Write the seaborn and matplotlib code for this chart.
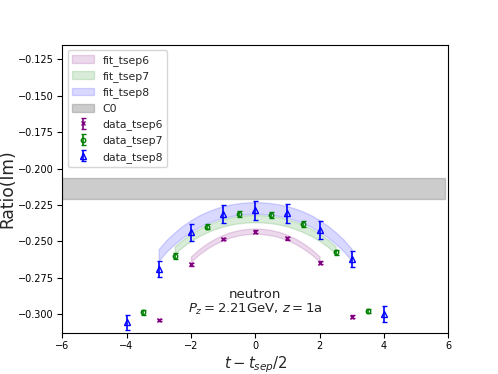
import matplotlib
matplotlib.use("Agg")
import matplotlib.pyplot as plt
import seaborn as sns

# data points, tau = t - tsep/2
tau_6 = [-3, -2, -1, 0, 1, 2, 3]
val_6 = [-0.3039, -0.2657, -0.2483, -0.2433, -0.2478, -0.2646, -0.3016]
err_6 = [0.0008, 0.0009, 0.0009, 0.0009, 0.0009, 0.0009, 0.0008]

tau_7 = [-3.5, -2.5, -1.5, -0.5, 0.5, 1.5, 2.5, 3.5]
val_7 = [-0.2986, -0.2600, -0.2398, -0.2313, -0.2318, -0.2382, -0.2574, -0.2977]
err_7 = [0.0016, 0.0018, 0.0020, 0.0020, 0.0020, 0.0020, 0.0018, 0.0016]

tau_8 = [-4, -3, -2, -1, 0, 1, 2, 3, 4]
val_8 = [-0.3055, -0.2689, -0.2437, -0.2311, -0.2286, -0.2306, -0.2421, -0.2620, -0.3000]
err_8 = [0.0052, 0.0057, 0.0060, 0.0064, 0.0066, 0.0064, 0.0063, 0.0055, 0.0054]

# fit bands (center, half width)
fit_x6 = [-2, -1.75, -1.5, -1.25, -1, -0.75, -0.5, -0.25, 0,
          0.25, 0.5, 0.75, 1, 1.25, 1.5, 1.75, 2]
fit_c6 = [-0.2621, -0.2572, -0.2532, -0.2499, -0.2473, -0.2453, -0.2440, -0.2432, -0.2429,
          -0.2432, -0.2440, -0.2453, -0.2473, -0.2499, -0.2532, -0.2572, -0.2621]
fit_e6 = [0.0018] * len(fit_x6)

fit_x7 = [-2.5, -2.25, -2, -1.75, -1.5, -1.25, -1, -0.75, -0.5, -0.25, 0,
          0.25, 0.5, 0.75, 1, 1.25, 1.5, 1.75, 2, 2.25, 2.5]
fit_c7 = [-0.2558, -0.2511, -0.2472, -0.2439, -0.2412, -0.2390, -0.2372, -0.2359, -0.2350, -0.2345, -0.2343,
          -0.2345, -0.2350, -0.2359, -0.2372, -0.2390, -0.2412, -0.2439, -0.2472, -0.2511, -0.2558]
fit_e7 = [0.0025] * len(fit_x7)

fit_x8 = [-3, -2.75, -2.5, -2.25, -2, -1.75, -1.5, -1.25, -1, -0.75, -0.5, -0.25, 0,
          0.25, 0.5, 0.75, 1, 1.25, 1.5, 1.75, 2, 2.25, 2.5, 2.75, 3]
fit_c8 = [-0.2592, -0.2528, -0.2477, -0.2432, -0.2394, -0.2362, -0.2336, -0.2315, -0.2298, -0.2286, -0.2277, -0.2272, -0.2270,
          -0.2272, -0.2277, -0.2286, -0.2298, -0.2315, -0.2336, -0.2362, -0.2394, -0.2432, -0.2477, -0.2528, -0.2592]
fit_e8 = [0.0040] * len(fit_x8)

c0_x = [-6, 5.9]
c0_val = -0.2136
c0_err = 0.0072

sns.set_style("ticks")
plt.rcParams["font.family"] = ["DejaVu Sans"]
plt.rcParams["axes.linewidth"] = 0.8
plt.rcParams["axes.edgecolor"] = "black"
plt.rcParams["xtick.major.width"] = 0.8
plt.rcParams["ytick.major.width"] = 0.8
plt.rcParams["xtick.major.size"] = 3.5
plt.rcParams["ytick.major.size"] = 3.5
plt.rcParams["xtick.color"] = "black"
plt.rcParams["ytick.color"] = "black"

fs = 7.8
fig, ax = plt.subplots(figsize=(4.98, 3.74), dpi=100)
fig.subplots_adjust(left=0.125, right=0.9, bottom=0.11, top=0.88)

colors = ["purple", "green", "blue"]
for x, c, e, col, lab in [(fit_x6, fit_c6, fit_e6, colors[0], "fit_tsep6"),
                          (fit_x7, fit_c7, fit_e7, colors[1], "fit_tsep7"),
                          (fit_x8, fit_c8, fit_e8, colors[2], "fit_tsep8")]:
    lo = [ci - ei for ci, ei in zip(c, e)]
    hi = [ci + ei for ci, ei in zip(c, e)]
    ax.fill_between(x, lo, hi, color=col, alpha=0.15, label=lab)

ax.fill_between(c0_x, c0_val - c0_err, c0_val + c0_err, color="grey", alpha=0.4, label="C0")

ax.errorbar(tau_6, val_6, yerr=err_6, fmt="x", color=colors[0], ms=2.5,
            capsize=1.8, elinewidth=1.2, label="data_tsep6")
ax.errorbar(tau_7, val_7, yerr=err_7, fmt="o", color=colors[1], mfc="none", ms=3.2,
            capsize=1.8, elinewidth=1.2, label="data_tsep7")
ax.errorbar(tau_8, val_8, yerr=err_8, fmt="^", color=colors[2], mfc="none", ms=3.8,
            capsize=1.8, elinewidth=1.2, label="data_tsep8")

ax.text(0, -0.2922, "neutron\n$P_z = 2.21$GeV, $z = 1$a", ha="center", va="center",
        fontsize=fs * 1.22, linespacing=1.1)

ax.set_xlim(-6, 6)
ax.set_ylim(-0.3128, -0.115)
ax.set_xticks([-6, -4, -2, 0, 2, 4, 6])
ax.set_yticks([-0.125, -0.150, -0.175, -0.200, -0.225, -0.250, -0.275, -0.300])
ax.tick_params(labelsize=7.0, pad=2.5)
ax.set_xlabel("$t - t_{sep}/2$", fontsize=fs * 1.38, labelpad=2)
ax.set_ylabel("Ratio(Im)", fontsize=12.3, labelpad=1)
ax.legend(loc="upper left", fontsize=fs)

fig.savefig("out.png", dpi=100)
